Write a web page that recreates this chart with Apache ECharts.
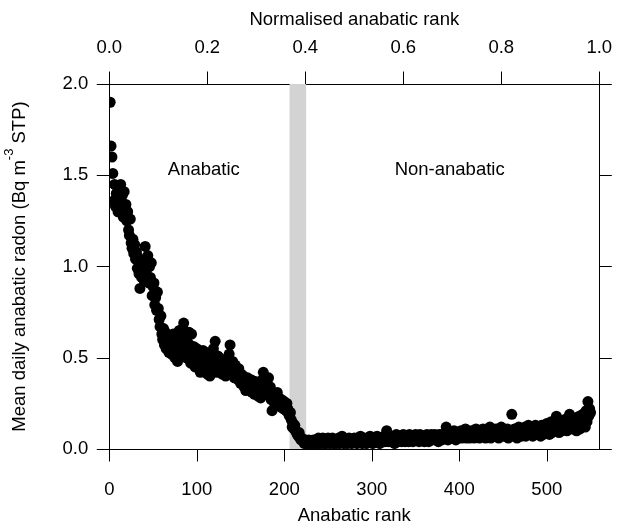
<!DOCTYPE html>
<html>
<head>
<meta charset="utf-8">
<script src="https://cdn.jsdelivr.net/npm/echarts@6/dist/echarts.min.js"></script>
<style>html,body{margin:0;padding:0;background:#fff;}#c{width:617px;height:526px;}</style>
</head>
<body>
<div id="c"></div>
<script>
// Bottom axis ticks (anabatic rank), top axis ticks (normalised rank), y ticks
const rankTicks = [0, 100, 200, 300, 400, 500];
const normTicks = [0, 0.2, 0.4, 0.6, 0.8, 1.0];
const radonTicks = [0, 0.5, 1.0, 1.5, 2.0];
const rankMax = 560;
const thresholdBand = [206, 225];
const regionNames = ['Anabatic', 'Non-anabatic'];
const regionRanks = [108, 389];
const regionValues = [1.53, 1.53];

// Mean daily radon, ranks 1..230 (anabatic side)
const radonAnabatic = [
1.90,1.66,1.60,1.51,1.36,1.45,1.33,1.40,1.38,1.30,
1.42,1.35,1.45,1.31,1.39,1.27,1.41,1.29,1.34,1.25,
1.30,1.20,1.17,1.26,1.13,1.10,1.15,1.07,1.12,1.04,
1.08,0.99,1.05,0.96,0.88,1.01,0.94,1.03,0.98,0.92,
1.11,0.97,0.93,1.06,0.91,1.00,0.94,1.02,0.84,0.89,
0.91,0.79,0.83,0.76,0.86,0.77,0.71,0.67,0.73,0.63,
0.60,0.66,0.57,0.64,0.55,0.58,0.62,0.53,0.60,0.56,
0.52,0.59,0.63,0.55,0.50,0.61,0.57,0.48,0.54,0.65,
0.58,0.60,0.52,0.66,0.69,0.56,0.62,0.50,0.59,0.54,
0.64,0.57,0.47,0.63,0.53,0.49,0.56,0.45,0.51,0.55,
0.48,0.52,0.45,0.42,0.50,0.47,0.54,0.43,0.49,0.53,
0.46,0.41,0.50,0.44,0.40,0.48,0.52,0.45,0.55,0.43,
0.59,0.47,0.42,0.51,0.45,0.50,0.44,0.48,0.41,0.47,
0.43,0.46,0.40,0.49,0.44,0.42,0.52,0.57,0.45,0.41,
0.48,0.44,0.39,0.46,0.42,0.42,0.38,0.44,0.40,0.36,
0.41,0.37,0.40,0.34,0.38,0.32,0.36,0.39,0.33,0.37,
0.35,0.38,0.31,0.36,0.34,0.30,0.37,0.33,0.35,0.29,
0.34,0.32,0.28,0.36,0.38,0.42,0.33,0.30,0.35,0.37,
0.32,0.39,0.29,0.34,0.27,0.21,0.31,0.28,0.25,0.30,
0.27,0.31,0.24,0.28,0.26,0.23,0.27,0.25,0.22,0.26,
0.24,0.21,0.25,0.22,0.19,0.18,0.20,0.16,0.12,0.14,
0.11,0.13,0.10,0.09,0.08,0.07,0.09,0.06,0.05,0.06,
0.05,0.04,0.03,0.05,0.04,0.03,0.04,0.05,0.03,0.04
];

// Mean daily radon, ranks 231..550 (non-anabatic side)
const radonNonAnabatic = [
.04,.03,.05,.04,.03,.05,.04,.03,.06,.04,
.03,.05,.04,.06,.03,.04,.05,.03,.04,.06,
.04,.03,.05,.04,.06,.03,.05,.04,.03,.05,
.04,.06,.03,.05,.04,.07,.04,.03,.05,.04,
.05,.03,.04,.06,.04,.05,.03,.05,.04,.06,
.04,.05,.03,.06,.04,.05,.07,.04,.03,.05,
.06,.04,.05,.03,.06,.04,.05,.07,.04,.05,
.03,.05,.06,.04,.05,.07,.04,.06,.03,.05,
.06,.04,.05,.07,.04,.06,.10,.05,.04,.06,
.05,.07,.04,.06,.05,.03,.06,.08,.05,.04,
.06,.05,.07,.04,.06,.08,.05,.04,.07,.05,
.06,.04,.08,.05,.07,.06,.04,.07,.05,.08,
.05,.07,.06,.04,.08,.06,.05,.07,.06,.04,
.07,.05,.08,.06,.04,.07,.06,.08,.05,.07,
.06,.08,.05,.07,.06,.04,.08,.06,.07,.05,
.08,.06,.07,.09,.12,.06,.05,.08,.07,.06,
.09,.07,.06,.10,.08,.05,.07,.09,.06,.08,
.07,.10,.06,.08,.09,.07,.11,.06,.08,.07,
.09,.06,.08,.10,.07,.09,.06,.08,.11,.07,
.08,.10,.06,.09,.07,.08,.11,.07,.09,.06,
.10,.08,.07,.09,.12,.06,.08,.10,.07,.09,
.08,.11,.07,.09,.06,.10,.08,.12,.07,.09,
.10,.07,.09,.08,.11,.06,.09,.10,.08,.19,
.09,.07,.11,.08,.10,.06,.09,.12,.08,.10,
.07,.11,.09,.08,.12,.07,.10,.09,.13,.08,
.10,.08,.12,.07,.11,.09,.13,.08,.10,.12,
.09,.11,.07,.13,.10,.08,.12,.09,.11,.14,
.10,.13,.08,.12,.15,.09,.11,.14,.10,.12,
.18,.11,.13,.09,.15,.12,.10,.14,.12,.16,
.11,.14,.10,.17,.13,.19,.12,.15,.11,.16,
.14,.12,.17,.10,.15,.13,.18,.11,.16,.14,
.19,.13,.17,.12,.21,.15,.26,.18,.22,.20
];

const radon = radonAnabatic.concat(radonNonAnabatic);
const points = radon.map((v, i) => [i + 1, v]);

const FONT = '"Liberation Sans", Arial, Helvetica, sans-serif';
const FS = 18.5;
const axisLineStyle = { color: '#000', width: 1 };

const chart = echarts.init(document.getElementById('c'), null, { renderer: 'canvas' });
chart.setOption({
  animation: false,
  backgroundColor: '#fff',
  textStyle: { fontFamily: FONT, color: '#000' },
  grid: { left: 109.3, right: 17.7, top: 84, bottom: 77, containLabel: false, outerBoundsMode: 'none' },
  xAxis: [
    {
      type: 'value', position: 'bottom', min: 0, max: rankMax, interval: 100,
      name: 'Anabatic rank', nameLocation: 'middle', nameGap: 57,
      nameTextStyle: { fontSize: FS, color: '#000', fontFamily: FONT },
      axisLine: { show: true, onZero: false, lineStyle: axisLineStyle },
      axisTick: { show: true, inside: false, length: 12.5, lineStyle: axisLineStyle, customValues: rankTicks },
      axisLabel: { show: true, margin: 31, fontSize: FS, color: '#000', fontFamily: FONT, customValues: rankTicks },
      splitLine: { show: false }
    },
    {
      type: 'value', position: 'top', min: 0, max: 1, interval: 0.2,
      name: 'Normalised anabatic rank', nameLocation: 'middle', nameGap: 55,
      nameTextStyle: { fontSize: FS, color: '#000', fontFamily: FONT },
      axisLine: { show: true, onZero: false, lineStyle: axisLineStyle },
      axisTick: { show: true, inside: false, length: 12.5, lineStyle: axisLineStyle, customValues: normTicks },
      axisLabel: { show: true, margin: 27, fontSize: FS, color: '#000', fontFamily: FONT, customValues: normTicks,
        formatter: v => Number(v).toFixed(1) },
      splitLine: { show: false }
    }
  ],
  yAxis: [
    {
      type: 'value', position: 'left', min: 0, max: 2, interval: 0.5,
      name: '{n|Mean daily anabatic radon (Bq m}{s|-3}{n| STP)}',
      nameLocation: 'middle', nameGap: 80, nameRotate: 90,
      nameTextStyle: {
        fontSize: FS, color: '#000', fontFamily: FONT,
        rich: {
          n: { fontSize: FS, color: '#000', fontFamily: FONT, lineHeight: 26, verticalAlign: 'bottom' },
          s: { fontSize: 13, color: '#000', fontFamily: FONT, lineHeight: 13, verticalAlign: 'top' }
        }
      },
      axisLine: { show: true, onZero: false, lineStyle: axisLineStyle },
      axisTick: { show: true, inside: false, length: 12.5, lineStyle: axisLineStyle, customValues: radonTicks },
      axisLabel: { show: true, margin: 21, fontSize: FS, color: '#000', fontFamily: FONT, customValues: radonTicks,
        formatter: v => Number(v).toFixed(1) },
      splitLine: { show: false }
    },
    {
      type: 'value', position: 'right', min: 0, max: 2, interval: 0.5,
      axisLine: { show: true, onZero: false, lineStyle: axisLineStyle },
      axisTick: { show: true, inside: false, length: 12.5, lineStyle: axisLineStyle, customValues: radonTicks },
      axisLabel: { show: false },
      splitLine: { show: false }
    }
  ],
  series: [
    {
      type: 'scatter', xAxisIndex: 0, yAxisIndex: 0, data: [], z: 1, silent: true,
      markArea: {
        silent: true,
        itemStyle: { color: '#d3d3d3', borderWidth: 0 },
        label: { show: false },
        data: [[{ xAxis: thresholdBand[0] }, { xAxis: thresholdBand[1] }]]
      }
    },
    {
      type: 'custom', xAxisIndex: 0, yAxisIndex: 0, data: points, z: 3, silent: true, clip: true,
      encode: { x: 0, y: 1 },
      renderItem: function (params, api) {
        const p = api.coord([api.value(0), api.value(1)]);
        return { type: 'circle', shape: { cx: p[0], cy: p[1], r: 5.5 }, style: { fill: '#000' } };
      }
    },
    {
      type: 'custom', xAxisIndex: 0, yAxisIndex: 0, z: 4, silent: true, clip: false,
      data: regionNames.map((n, i) => [regionRanks[i], regionValues[i], n]),
      encode: { x: 0, y: 1 },
      renderItem: function (params, api) {
        const p = api.coord([api.value(0), api.value(1)]);
        return { type: 'text', x: p[0], y: p[1],
          style: { text: regionNames[params.dataIndex], fill: '#000', fontSize: FS, fontFamily: FONT,
                   align: 'center', verticalAlign: 'middle' } };
      }
    }
  ]
});
</script>
</body>
</html>
